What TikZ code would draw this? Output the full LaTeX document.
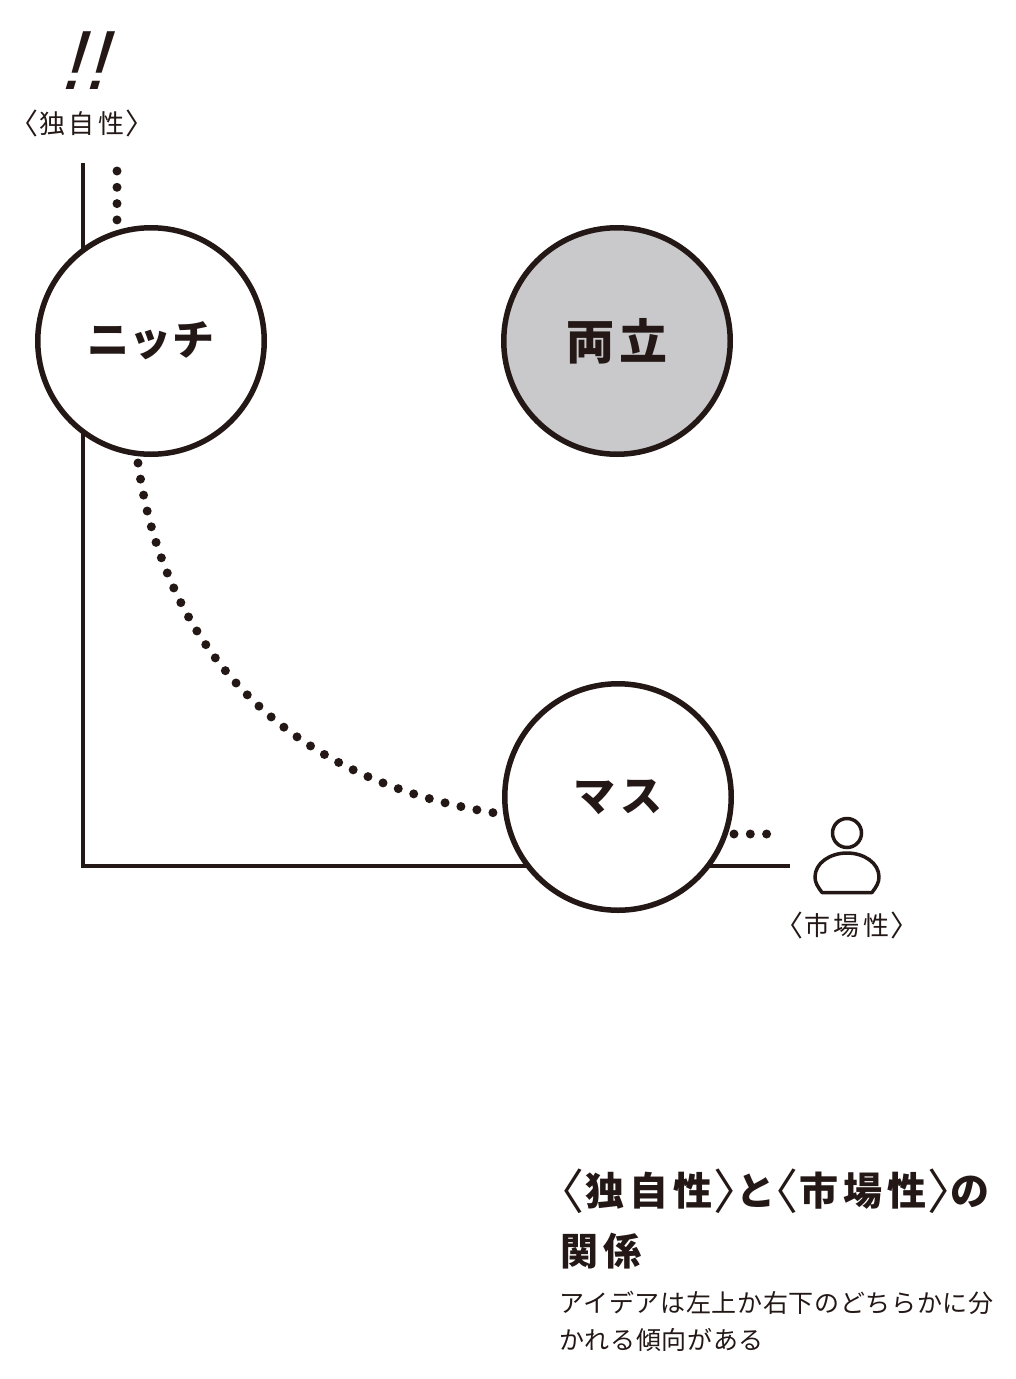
\documentclass[tikz,border=0pt]{standalone}
\usepackage{fontspec}
\setmainfont{Noto Sans CJK JP}
\newfontfamily\bangfont[FakeSlant=0.3]{Liberation Sans}
\definecolor{ink}{HTML}{231815}
\definecolor{fillgray}{HTML}{C9C9CC}
\newcommand{\fs}[1]{\fontsize{#1pt}{#1pt}\selectfont}
\newcommand{\lbk}[3]{\kern#2pt\raisebox{#3pt}{\mdseries\fs{#1}〈}\kern1pt}
\newcommand{\rbk}[3]{\kern1pt\raisebox{#3pt}{\mdseries\fs{#1}〉}\kern#2pt}
\tikzset{
  axis/.style={draw=ink,line width=3.2pt},
  dots/.style={draw=ink,line width=9pt,line cap=round,dash pattern=on 0pt off 16.3pt},
  bubble/.style={circle,draw=ink,line width=5.5pt,fill=white,minimum size=226.5pt,inner sep=0pt,text=ink},
  label/.style={inner sep=0pt,text=ink},
  icon/.style={draw=ink,line width=3.5pt,line join=round},
}
\begin{document}
\begin{tikzpicture}[x=1pt,y=-1pt]
\useasboundingbox[fill=white] (0,0) rectangle (1016,1379);
\coordinate (yTop) at (83,163);
\coordinate (origin) at (83,866);
\coordinate (xEnd) at (790,866);
\draw[axis,line join=miter] (yTop) -- (origin) -- (xEnd);
\coordinate (d1a) at (117,171);
\coordinate (d1b) at (117,220);
\coordinate (d2a) at (138,463);
\coordinate (d2b) at (495,813);
\coordinate (d3a) at (734,834);
\coordinate (d3b) at (767,834);
\draw[dots] (d1a) -- (d1b);
\draw[dots] (d2a) .. controls (163,640) and (276,778) .. (d2b);
\draw[dots] (d3a) -- (d3b);
\node[bubble] (niche) at (151,341) {\raisebox{1pt}{\bfseries\fs{42}\addfontfeature{LetterSpace=2}ニッチ}};
\node[bubble,fill=fillgray] (both) at (617,341) {\raisebox{4pt}{\bfseries\fs{48}\addfontfeature{LetterSpace=9}両立}};
\node[bubble] (mass) at (618,797) {\raisebox{-2pt}{\bfseries\fs{42}\addfontfeature{LetterSpace=10}マス}};
\node[label,anchor=base] (bang) at (82,89) {\bangfont\fs{84}!!};
\node[label,anchor=center] (ylabel) at (82,123) {\fs{26}\addfontfeature{LetterSpace=12}\lbk{29}{-15}{-1}独自性\rbk{29}{-15}{-1}};
\node[label,anchor=center] (xlabel) at (847,925) {\fs{26}\addfontfeature{LetterSpace=12}\lbk{29}{-15}{-1}市場性\rbk{29}{-15}{-1}};
\node[circle,icon,minimum size=29pt,inner sep=0pt] (head) at (847,833) {};
\draw[icon] (822,892.5) -- (872,892.5) .. controls (876,887) and (879,883) .. (879,877) .. controls (879,863) and (864,853) .. (847,853) .. controls (830,853) and (815,863) .. (815,877) .. controls (815,883) and (818,887) .. (822,892.5) -- cycle;
\node[label,anchor=base west] (title1) at (560,1205) {\bfseries\fs{39}\addfontfeature{LetterSpace=13}\lbk{48}{-24}{-4}独自性\rbk{48}{-25}{-4}と\lbk{48}{-25}{-4}市場性\rbk{48}{-25}{-4}の};
\node[label,anchor=base west] (title2) at (560,1265) {\bfseries\fs{38}\addfontfeature{LetterSpace=15}関係};
\node[label,anchor=base west] (body1) at (559,1312) {\fs{25}\addfontfeature{LetterSpace=2.6}アイデアは左上か右下のどちらかに分};
\node[label,anchor=base west] (body2) at (559,1349) {\fs{25}\addfontfeature{LetterSpace=2.6}かれる傾向がある};
\end{tikzpicture}
\end{document}
